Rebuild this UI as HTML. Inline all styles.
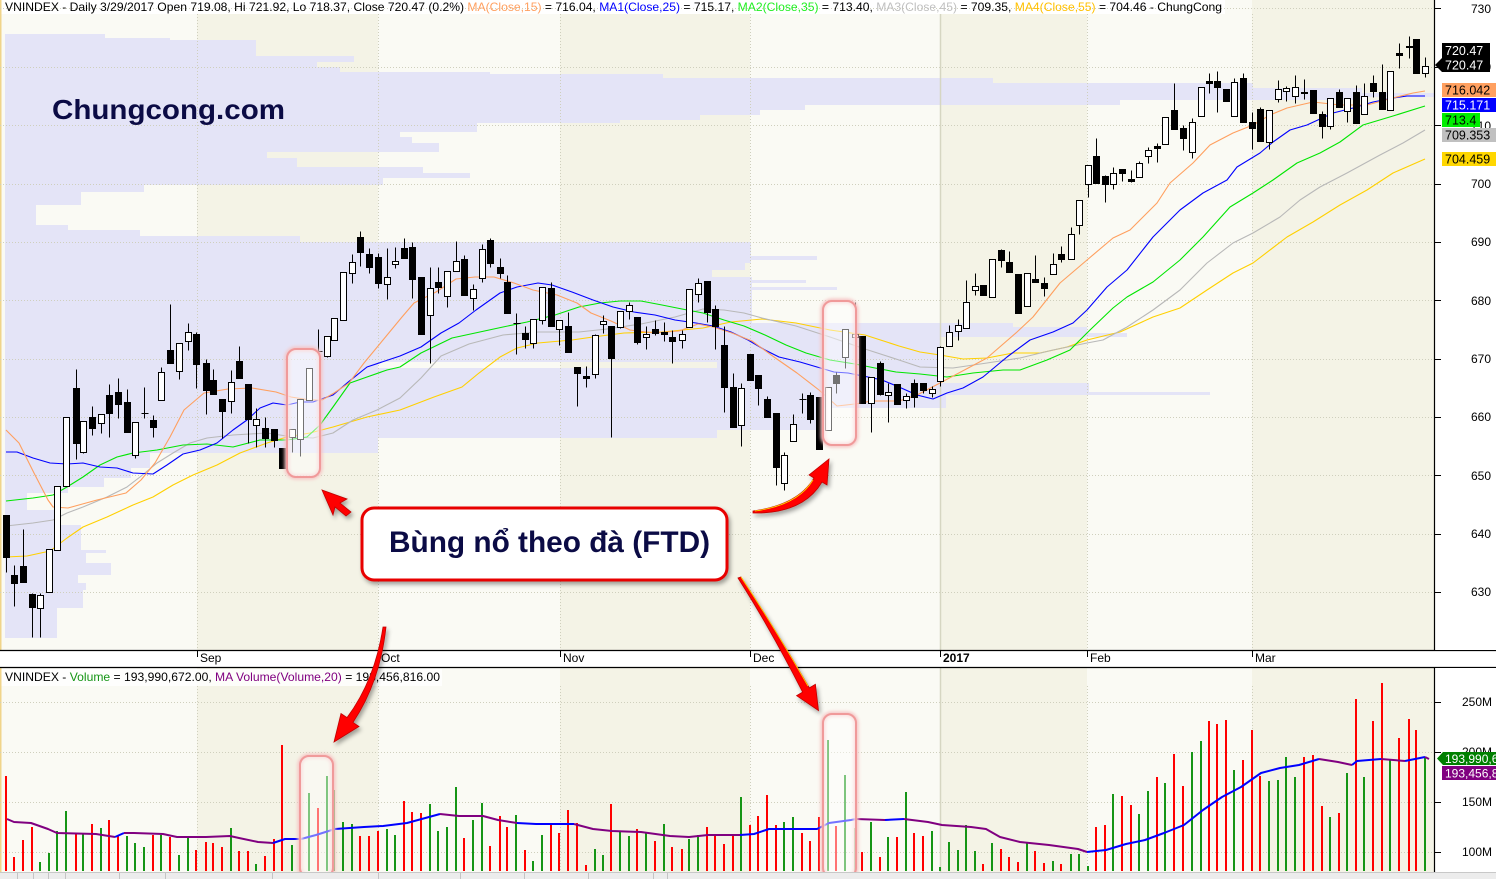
<!DOCTYPE html>
<html><head><meta charset="utf-8"><style>
html,body{margin:0;padding:0;background:#fff;}
svg{display:block;font-family:"Liberation Sans",Arial,sans-serif;}
</style></head><body>
<svg width="1496" height="879" viewBox="0 0 1496 879" xmlns="http://www.w3.org/2000/svg">
<defs>
<filter id="sh" x="-20%" y="-20%" width="140%" height="140%"><feDropShadow dx="2" dy="3" stdDeviation="2" flood-color="#000" flood-opacity="0.35"/></filter>
<filter id="gl" x="-30%" y="-30%" width="160%" height="160%"><feGaussianBlur stdDeviation="1.5"/></filter>
</defs>
<rect width="1496" height="879" fill="#fff"/>
<!-- month bands price panel -->
<g>
<rect x="0" y="0" width="197" height="650" fill="#fafaf4"/>
<rect x="197" y="0" width="181" height="650" fill="#f4f3e6"/>
<rect x="378" y="0" width="182" height="650" fill="#fafaf4"/>
<rect x="560" y="0" width="190" height="650" fill="#f4f3e6"/>
<rect x="750" y="0" width="190" height="650" fill="#fafaf4"/>
<rect x="940" y="0" width="147" height="650" fill="#f4f3e6"/>
<rect x="1087" y="0" width="165" height="650" fill="#fafaf4"/>
<rect x="1252" y="0" width="183" height="650" fill="#f4f3e6"/>
</g>
<!-- month bands volume panel -->
<g>
<rect x="0" y="668" width="197" height="205" fill="#fafaf4"/>
<rect x="197" y="668" width="181" height="205" fill="#f4f3e6"/>
<rect x="378" y="668" width="182" height="205" fill="#fafaf4"/>
<rect x="560" y="668" width="190" height="205" fill="#f4f3e6"/>
<rect x="750" y="668" width="190" height="205" fill="#fafaf4"/>
<rect x="940" y="668" width="147" height="205" fill="#f4f3e6"/>
<rect x="1087" y="668" width="165" height="205" fill="#fafaf4"/>
<rect x="1252" y="668" width="183" height="205" fill="#f4f3e6"/>
</g>
<rect x="0" y="0" width="1225" height="14" fill="#fff"/>
<rect x="0" y="669" width="442" height="17" fill="#fff" fill-opacity="0.8"/>
<!-- volume profile -->
<path fill="#e4e4f7" d="M5 34H105V38H5ZM5 38H170V40H5ZM5 40H256V56H5ZM5 56H354V62H5ZM5 62H317V67H5ZM5 67H340V72H5ZM5 72H490V74H5ZM5 74H663V78H5ZM5 78H993V83H5ZM5 83H1253V88H5ZM5 88H1362V93H5ZM5 93H1434V97H5ZM5 97H1362V100H5ZM5 100H1120V105H5ZM5 105H805V110H5ZM5 110H760V115H5ZM5 115H700V120H5ZM5 120H620V123H5ZM5 123H477V132H5ZM5 132H400V137H5ZM5 137H412V143H5ZM5 143H439V152H5ZM5 152H267V158H5ZM5 158H297V167H5ZM5 167H423V173H5ZM5 173H470V178H5ZM5 178H383V185H5ZM5 185H144V192H5ZM5 192H81V205H5ZM5 205H36V225H5ZM5 225H68V230H5ZM5 230H140V236H5ZM5 236H300V242H5ZM5 242H751V256H5ZM5 256H817V260H5ZM5 260H751V263H5ZM5 263H745V270H5ZM5 270H712V277H5ZM5 277H752V280H5ZM5 280H806V283H5ZM5 283H752V287H5ZM5 287H837V290H5ZM5 290H752V323H5ZM5 323H1013V327H5ZM5 327H1087V333H5ZM5 333H1127V337H5ZM5 337H940V362H5ZM5 362H378V368H5ZM717 362H940V368H717ZM5 368H940V383H5ZM5 383H1089V392H5ZM5 392H1210V395H5ZM5 395H946V408H5ZM5 408H824V430H5ZM5 430H717V438H5ZM5 438H378V453H5ZM5 453H150V468H5ZM5 468H131V478H5ZM5 478H104V487H5ZM5 487H68V493H5ZM5 493H27V510H5ZM5 510H57V525H5ZM5 525H81V550H5ZM5 550H106V553H5ZM5 553H86V563H5ZM5 563H111V575H5ZM5 575H78V583H5ZM5 583H86V590H5ZM5 590H83V608H5ZM5 608H57V638H5Z"/>
<rect x="0" y="0" width="1.5" height="650" fill="#f0d48a"/>
<rect x="0" y="668" width="1.5" height="205" fill="#f0d48a"/>
<!-- gridlines -->
<g stroke="#cfcfbd" stroke-width="1" stroke-dasharray="1 2" fill="none">
<path d="M0 8.5H1434M0 67.5H1434M0 125.5H1434M0 184.5H1434M0 242.5H1434M0 300.5H1434M0 359.5H1434M0 417.5H1434M0 475.5H1434M0 534.5H1434M0 592.5H1434"/>
<path d="M197.5 14V650M378.5 14V650M560.5 14V650M750.5 14V650M1087.5 14V650M1252.5 14V650"/>
<path d="M0 702.5H1434M0 752.5H1434M0 802.5H1434M0 852.5H1434"/>
<path d="M197.5 686V872M378.5 686V872M560.5 686V872M750.5 686V872M1087.5 686V872M1252.5 686V872"/>
</g>
<path d="M940.5 14V650M940.5 668V872" stroke="#d6d6c2" stroke-width="1.5"/>
<!-- watermark -->
<text x="52" y="119" font-size="28" font-weight="bold" fill="#0b0b45" textLength="233" lengthAdjust="spacingAndGlyphs">Chungcong.com</text>
<!-- title -->
<text x="5" y="11" font-size="12" fill="#000" textLength="1217" lengthAdjust="spacingAndGlyphs">VNINDEX - Daily 3/29/2017 Open 719.08, Hi 721.92, Lo 718.37, Close 720.47 (0.2%) <tspan fill="#ffa060">MA(Close,15)</tspan> = 716.04, <tspan fill="#0000ff">MA1(Close,25)</tspan> = 715.17, <tspan fill="#22ee22">MA2(Close,35)</tspan> = 713.40, <tspan fill="#c0c0c0">MA3(Close,45)</tspan> = 709.35, <tspan fill="#ffc000">MA4(Close,55)</tspan> = 704.46 - ChungCong</text>
<!-- moving averages -->
<g fill="none" stroke-width="1.1" stroke-linejoin="round">
<polyline stroke="#ffd000" points="6,557 27,556 50,551 67,538 83,527 107,517 133,505 153,497 173,485 193,475 217,465 240,453 267,443 287,437 310,433 333,427 367,417 400,410 434,397 462,387 479,373 500,357 517,348 538,343 572,340 593,337 624,333 662,332 703,328 731,322 762,319 796,323 830,330 865,335 899,346 920,352 940,355 963,359 987,358 1013,353 1040,353 1067,347 1087,340 1120,332 1153,317 1180,308 1207,290 1233,273 1253,263 1287,237 1313,222 1340,205 1367,190 1393,173 1425,159"/>
<polyline stroke="#b8b8b8" points="6,526 33,523 53,520 67,513 83,507 107,497 127,487 140,477 157,463 173,453 190,443 207,438 233,435 267,433 293,437 313,438 333,433 353,420 377,410 400,398 421,378 441,356 469,344 503,335 538,332 579,332 607,329 641,324 675,317 703,309 724,310 744,313 762,318 796,326 830,337 865,349 899,360 920,367 953,368 987,363 1020,358 1053,350 1087,343 1103,340 1127,327 1153,310 1180,290 1207,263 1233,243 1253,233 1280,217 1300,200 1320,187 1347,173 1380,155 1403,143 1425,130"/>
<polyline stroke="#00e600" points="6,501 33,498 53,495 67,487 83,477 100,465 117,457 133,453 157,450 183,445 207,444 233,447 260,440 287,440 307,437 320,425 333,407 350,383 367,377 387,370 400,367 421,353 452,338 503,327 527,322 555,315 579,307 600,303 620,301 641,301 662,305 682,309 703,313 724,320 744,326 765,335 786,345 806,353 830,360 855,364 875,368 896,372 920,374 947,377 973,373 1003,370 1020,370 1047,360 1070,350 1090,330 1113,308 1127,297 1153,282 1180,260 1203,237 1230,207 1253,193 1273,180 1297,163 1320,153 1340,142 1363,125 1393,116 1425,106"/>
<polyline stroke="#0000ff" points="6,452 17,452 33,458 50,463 67,464 83,463 100,467 117,468 133,473 153,474 167,465 183,454 200,450 217,443 233,430 247,420 260,408 273,403 287,405 300,402 313,402 333,395 347,383 367,367 400,356 421,347 441,333 459,323 476,310 500,293 517,287 538,283 552,285 572,292 593,300 613,307 634,312 655,315 675,320 696,323 713,326 731,332 748,340 765,350 779,357 800,362 817,367 834,372 848,373 868,377 882,380 899,387 917,395 933,399 947,393 963,388 983,377 1007,357 1030,340 1053,332 1073,323 1087,310 1107,287 1127,270 1153,237 1180,210 1203,193 1227,180 1237,167 1260,153 1273,142 1290,130 1307,125 1333,113 1353,108 1373,102 1393,98 1407,96 1425,96"/>
<polyline stroke="#ff9f5e" points="6,430 19,443 34,473 48,500 53,507 68,508 97,500 126,493 141,480 155,463 170,437 184,410 204,393 228,389 252,388 276,392 291,397 310,400 322,400 334,393 349,383 364,363 383,340 402,317 414,303 436,292 456,279 475,277 494,277 514,283 533,290 557,295 577,303 591,313 611,321 630,330 654,333 679,331 698,324 713,327 732,333 752,341 774,357 797,373 819,390 837,406 855,404 872,401 899,401 917,395 940,383 987,358 1017,332 1033,317 1060,283 1087,260 1113,238 1130,230 1140,220 1157,203 1170,183 1193,163 1210,145 1233,133 1253,125 1270,115 1287,108 1313,102 1340,105 1367,105 1393,98 1413,93 1425,91"/>
</g>
<!-- candles -->
<g transform="translate(0.5,0.5)" stroke="#000" stroke-width="1">
<path fill="none" d="M6 515V572M14 565V606M23 529V582M32 593V637M40 593V637M49 549V592M57 486V550M66 417V486M76 369V459M83 421V453M92 406V435M101 414V433M109 384V437M118 378V418M127 389V432M135 422V458M144 387V418M153 415V437M161 367V400M170 304V363M179 343V379M188 323V350M196 332V388M206 359V414M213 369V394M222 399V438M231 370V413M239 346V378M248 384V443M256 408V447M265 417V447M274 429V447M282 448V468M292 429V452M300 399V456M309 368V400M318 329V352M327 336V357M334 318V340M343 272V320M352 254V283M360 231V266M369 248V273M378 253V288M387 248V299M395 247V268M404 238V258M412 242V298M421 277V334M430 267V363M438 267V293M447 271V307M456 241V271M464 255V295M473 284V310M482 244V282M490 238V267M500 258V278M507 275V313M516 313V354M525 326V348M533 319V348M542 287V324M551 282V326M559 320V345M568 312V352M577 367V406M586 366V387M595 334V378M603 315V333M611 326V437M620 311V328M629 302V319M637 317V344M646 326V349M655 320V335M664 322V341M672 330V363M682 330V348M689 289V327M698 278V302M707 281V322M715 305V349M724 326V412M733 373V427M741 383V446M750 354V380M758 375V405M767 396V417M776 413V485M784 452V490M793 414V441M802 393V413M810 392V423M819 397V449M828 387V430M836 372V393M845 329V368M855 302V337M862 336V403M871 377V432M880 361V395M888 383V422M897 384V404M906 393V408M914 379V407M923 383V393M932 386V397M940 346V386M949 325V346M958 319V340M966 280V328M975 273V295M983 285V295M992 259V297M1001 249V267M1009 251V272M1018 274V313M1027 273V306M1035 255V282M1044 277V296M1053 253V274M1061 246V262M1071 227V259M1079 200V234M1088 165V197M1096 138V183M1105 175V202M1113 167V189M1122 169V181M1131 170V182M1139 161V177M1148 147V163M1157 143V162M1165 117V144M1174 83V129M1183 125V150M1192 118V158M1201 87V116M1209 73V93M1217 71V112M1226 89V101M1234 78V116M1243 73V122M1252 112V149M1260 107V141M1269 110V149M1278 80V102M1286 86V101M1295 75V103M1304 79V99M1313 90V113M1322 111V138M1330 98V129M1339 89V107M1347 98V122M1356 85V123M1364 83V114M1373 75V97M1382 64V109M1390 71V110M1399 43V68M1409 36V58M1416 39V73M1425 57V77M141 413h7M315 351h7M513 323h7M799 399h7"/>
<path fill="#000" d="M3 515h6v42h-6zM11 575h6v8h-6zM20 566h6v16h-6zM29 594h6v13h-6zM73 388h6v55h-6zM89 417h6v11h-6zM106 395h6v18h-6zM115 392h6v12h-6zM124 402h6v30h-6zM150 420h6v7h-6zM167 350h6v13h-6zM193 334h6v30h-6zM203 363h6v27h-6zM210 380h6v14h-6zM219 399h6v12h-6zM236 361h6v17h-6zM245 384h6v35h-6zM262 428h6v10h-6zM271 429h6v11h-6zM279 448h6v20h-6zM357 237h6v15h-6zM366 254h6v13h-6zM375 257h6v26h-6zM401 248h6v10h-6zM409 247h6v32h-6zM418 277h6v57h-6zM435 282h6v5h-6zM461 259h6v36h-6zM487 240h6v23h-6zM497 267h6v6h-6zM504 282h6v31h-6zM522 333h6v6h-6zM548 288h6v38h-6zM565 326h6v26h-6zM574 367h6v6h-6zM583 376h6v2h-6zM608 326h6v32h-6zM634 317h6v25h-6zM652 329h6v4h-6zM661 332h6v2h-6zM669 337h6v4h-6zM704 281h6v31h-6zM712 309h6v17h-6zM721 345h6v42h-6zM730 387h6v40h-6zM747 354h6v26h-6zM755 375h6v13h-6zM764 399h6v18h-6zM773 413h6v54h-6zM807 395h6v24h-6zM816 397h6v52h-6zM833 375h6v8h-6zM859 336h6v67h-6zM877 363h6v31h-6zM894 384h6v20h-6zM911 383h6v14h-6zM920 383h6v7h-6zM980 285h6v10h-6zM998 250h6v10h-6zM1006 262h6v10h-6zM1015 274h6v39h-6zM1032 279h6v3h-6zM1041 283h6v5h-6zM1058 254h6v5h-6zM1093 156h6v27h-6zM1102 176h6v8h-6zM1119 169h6v4h-6zM1128 179h6v2h-6zM1154 146h6v2h-6zM1171 110h6v19h-6zM1180 128h6v10h-6zM1206 81h6v2h-6zM1214 81h6v6h-6zM1223 89h6v12h-6zM1240 78h6v44h-6zM1249 122h6v6h-6zM1257 109h6v32h-6zM1301 92h6v1h-6zM1310 90h6v23h-6zM1319 114h6v12h-6zM1336 92h6v15h-6zM1353 92h6v31h-6zM1370 83h6v8h-6zM1379 92h6v17h-6zM1396 53h6v2h-6zM1406 46h6v1h-6zM1413 39h6v34h-6z"/>
<path fill="#fff" d="M37 595h6v13h-6zM46 549h6v43h-6zM54 486h6v64h-6zM63 417h6v69h-6zM80 421h6v31h-6zM98 414h6v9h-6zM132 422h6v33h-6zM158 372h6v28h-6zM176 343h6v28h-6zM185 332h6v9h-6zM228 382h6v19h-6zM253 419h6v6h-6zM289 429h6v8h-6zM297 399h6v40h-6zM306 368h6v32h-6zM324 336h6v20h-6zM331 318h6v22h-6zM340 272h6v48h-6zM349 262h6v11h-6zM384 277h6v7h-6zM392 261h6v3h-6zM427 288h6v27h-6zM444 271h6v25h-6zM453 261h6v10h-6zM470 289h6v9h-6zM479 249h6v29h-6zM530 319h6v24h-6zM539 287h6v33h-6zM556 320h6v9h-6zM592 335h6v39h-6zM600 321h6v3h-6zM617 311h6v16h-6zM626 305h6v6h-6zM643 334h6v3h-6zM679 334h6v6h-6zM686 289h6v38h-6zM695 283h6v11h-6zM738 388h6v37h-6zM781 455h6v28h-6zM790 424h6v17h-6zM825 387h6v43h-6zM842 329h6v28h-6zM852 334h6v3h-6zM868 377h6v26h-6zM885 392h6v3h-6zM903 396h6v4h-6zM929 389h6v4h-6zM937 347h6v34h-6zM946 332h6v14h-6zM955 325h6v6h-6zM963 302h6v26h-6zM972 286h6v4h-6zM989 259h6v38h-6zM1024 273h6v33h-6zM1050 264h6v10h-6zM1068 234h6v25h-6zM1076 200h6v25h-6zM1085 165h6v19h-6zM1110 173h6v11h-6zM1136 163h6v14h-6zM1145 150h6v6h-6zM1162 117h6v27h-6zM1189 122h6v30h-6zM1198 87h6v29h-6zM1231 82h6v34h-6zM1266 110h6v32h-6zM1275 89h6v10h-6zM1283 88h6v3h-6zM1292 87h6v9h-6zM1327 98h6v28h-6zM1344 98h6v13h-6zM1361 96h6v18h-6zM1387 71h6v39h-6zM1422 66h6v7h-6z"/>
</g>
<!-- volume bars -->
<path fill="none" stroke="#ff0000" stroke-width="2" d="M6 871V776M14 871V857M23 871V840M32 871V827M76 871V833M92 871V824M109 871V820M118 871V835M153 871V835M170 871V837M196 871V850M206 871V842M213 871V843M222 871V847M239 871V851M248 871V851M265 871V856M274 871V839M282 871V745M318 871V808M360 871V836M369 871V836M378 871V831M404 871V801M412 871V812M421 871V813M464 871V838M490 871V846M500 871V816M507 871V827M525 871V850M551 871V823M559 871V833M568 871V810M577 871V823M586 871V865M611 871V804M637 871V829M655 871V841M672 871V847M682 871V849M707 871V827M715 871V835M724 871V844M733 871V835M750 871V825M758 871V816M767 871V795M776 871V825M802 871V833M810 871V841M819 871V817M836 871V826M862 871V852M880 871V857M897 871V837M914 871V833M923 871V836M983 871V864M1001 871V849M1009 871V857M1018 871V862M1035 871V851M1044 871V863M1061 871V864M1096 871V827M1105 871V825M1122 871V796M1131 871V805M1157 871V777M1174 871V754M1183 871V786M1209 871V721M1217 871V724M1226 871V720M1243 871V760M1252 871V730M1260 871V776M1304 871V757M1313 871V755M1322 871V806M1339 871V813M1356 871V699M1373 871V721M1382 871V683M1399 871V738M1409 871V719M1416 871V730"/>
<path fill="none" stroke="#159515" stroke-width="2" d="M40 871V862M49 871V853M57 871V831M66 871V811M83 871V834M101 871V828M127 871V836M135 871V843M144 871V847M161 871V835M179 871V855M188 871V837M231 871V828M256 871V864M292 871V845M300 871V833M309 871V793M327 871V776M334 871V790M343 871V822M352 871V824M387 871V829M395 871V835M430 871V804M438 871V831M447 871V827M456 871V787M473 871V820M482 871V803M516 871V815M533 871V861M542 871V835M595 871V849M603 871V855M620 871V831M629 871V836M646 871V833M664 871V824M689 871V839M698 871V835M741 871V797M784 871V822M793 871V817M828 871V740M845 871V775M855 871V828M871 871V822M888 871V837M906 871V792M932 871V831M940 871V867M949 871V842M958 871V850M966 871V825M975 871V851M992 871V843M1027 871V843M1053 871V861M1071 871V854M1079 871V854M1088 871V866M1113 871V794M1139 871V814M1148 871V791M1165 871V783M1192 871V752M1201 871V741M1234 871V770M1269 871V781M1278 871V780M1286 871V757M1295 871V777M1330 871V817M1347 871V773M1364 871V777M1390 871V760M1425 871V758"/>
<!-- volume MA -->
<g fill="none" stroke-width="2" stroke-linejoin="round">
<polyline stroke="#800080" points="7,819 14,822 31,823 48,829 57,833 96,834 115,837"/>
<polyline stroke="#0000ff" points="115,837 124,833"/>
<polyline stroke="#800080" points="124,833 134,833 163,834 177,837 206,837 230,836 239,838 258,842 273,843"/>
<polyline stroke="#0000ff" points="273,843 285,839 301,839 316,835 335,829 364,827 383,826 407,823 440,814"/>
<polyline stroke="#800080" points="440,814 459,816 483,816 498,820 517,823"/>
<polyline stroke="#0000ff" points="517,823 536,824 574,824"/>
<polyline stroke="#800080" points="574,824 593,829 612,831 641,832 670,836 689,837 708,835 740,835"/>
<polyline stroke="#0000ff" points="740,835 754,834 769,829 817,829 829,823 851,820 856,819"/>
<polyline stroke="#800080" points="856,819 885,820"/>
<polyline stroke="#0000ff" points="885,820 904,819"/>
<polyline stroke="#800080" points="904,819 928,822 942,825 971,827 986,829 1000,837 1020,842 1049,845 1078,849 1087,852"/>
<polyline stroke="#0000ff" points="1087,852 1106,850 1126,844 1145,840 1164,833 1184,825 1203,810 1222,797 1241,787 1261,773 1280,768 1299,765 1319,759"/>
<polyline stroke="#800080" points="1319,759 1338,762 1352,765"/>
<polyline stroke="#0000ff" points="1352,765 1357,761 1381,759"/>
<polyline stroke="#800080" points="1381,759 1405,761"/>
<polyline stroke="#0000ff" points="1405,761 1425,757"/>
<polyline stroke="#800080" points="1425,757 1429,759"/>
</g>
<!-- FTD highlight boxes -->
<g>
<g fill="none" stroke="#f6c4c4" stroke-width="5" filter="url(#gl)">
<rect x="287" y="349" width="33" height="128" rx="9"/>
<rect x="823" y="301" width="33" height="144" rx="9"/>
<rect x="300" y="756" width="33" height="121" rx="9"/>
<rect x="823" y="714" width="33" height="163" rx="9"/>
</g>
<g fill="#fff" fill-opacity="0.45" stroke="#f09a9a" stroke-width="2">
<rect x="287" y="349" width="33" height="128" rx="9"/>
<rect x="823" y="301" width="33" height="144" rx="9"/>
<rect x="300" y="756" width="33" height="121" rx="9"/>
<rect x="823" y="714" width="33" height="163" rx="9"/>
</g>
</g>
<!-- date strip -->
<rect x="0" y="651" width="1496" height="16" fill="#fff"/>
<path d="M0 650.5H1496M0 667.5H1496" stroke="#000" stroke-width="1.2"/>
<path d="M197.5 651V657M378.5 651V657M560.5 651V657M750.5 651V657M940.5 651V657M1087.5 651V657M1252.5 651V657" stroke="#000" stroke-width="1"/>
<g font-size="12" fill="#000">
<text x="200" y="662">Sep</text>
<text x="381" y="662">Oct</text>
<text x="563" y="662">Nov</text>
<text x="753" y="662">Dec</text>
<text x="943" y="662" font-weight="bold">2017</text>
<text x="1090" y="662">Feb</text>
<text x="1255" y="662">Mar</text>
</g>
<!-- volume title -->
<text x="5" y="681" font-size="12" fill="#000" textLength="435" lengthAdjust="spacingAndGlyphs">VNINDEX - <tspan fill="#159515">Volume</tspan> = 193,990,672.00, <tspan fill="#800080">MA Volume(Volume,20)</tspan> = 193,456,816.00</text>
<!-- bottom scrollbar -->
<rect x="0" y="872" width="1496" height="7" fill="#ececec"/>
<path d="M0 872.5H1496" stroke="#c8c8c8"/>
<path d="M17.5 873V879M33.5 873V879M48.5 873V879M65.5 873V879M119.5 873V879M165.5 873V879M272.5 873V879M378.5 873V879M460.5 873V879M524.5 873V879M588.5 873V879M653.5 873V879M667.5 873V879" stroke="#c4c4c4"/>
<!-- right axis panel -->
<rect x="1435" y="0" width="61" height="650" fill="#fff"/>
<rect x="1435" y="668" width="61" height="204" fill="#fff"/>
<path d="M1434.5 0V650M1434.5 668V872" stroke="#000" stroke-width="1.2"/>
<path d="M1435 8.5h6M1435 67.5h6M1435 125.5h6M1435 184.5h6M1435 242.5h6M1435 300.5h6M1435 359.5h6M1435 417.5h6M1435 475.5h6M1435 534.5h6M1435 592.5h6M1435 702.5h6M1435 752.5h6M1435 802.5h6M1435 852.5h6" stroke="#000"/>
<g font-size="12" fill="#000" text-anchor="end">
<text x="1491" y="13">730</text>
<text x="1491" y="71">720</text>
<text x="1491" y="130">710</text>
<text x="1491" y="188">700</text>
<text x="1491" y="246">690</text>
<text x="1491" y="305">680</text>
<text x="1491" y="363">670</text>
<text x="1491" y="421">660</text>
<text x="1491" y="480">650</text>
<text x="1491" y="538">640</text>
<text x="1491" y="596">630</text>
<text x="1492" y="706">250M</text>
<text x="1492" y="756">200M</text>
<text x="1492" y="806">150M</text>
<text x="1492" y="856">100M</text>
</g>
<!-- value boxes -->
<g font-size="12.5">
<rect x="1442" y="43" width="48" height="15" fill="#000"/>
<path d="M1435 65L1442 58H1490V72H1442Z" fill="#000"/>
<text x="1445" y="55" fill="#fff">720.47</text>
<text x="1445" y="69.5" fill="#fff">720.47</text>
<rect x="1442" y="83" width="54" height="14" fill="#ffa060"/>
<text x="1445" y="94.5" fill="#000">716.042</text>
<rect x="1442" y="98" width="54" height="14" fill="#0000ff"/>
<text x="1445" y="109.5" fill="#fff">715.171</text>
<rect x="1442" y="113" width="38" height="14" fill="#00ee00"/>
<text x="1445" y="124.5" fill="#000">713.4</text>
<rect x="1442" y="128" width="54" height="14" fill="#c0c0c0"/>
<text x="1445" y="139.5" fill="#000">709.353</text>
<rect x="1442" y="152" width="54" height="14" fill="#ffd700"/>
<text x="1445" y="163.5" fill="#000">704.459</text>
</g>
<g font-size="12">
<path d="M1437 758.5L1443 752H1496V765H1443Z" fill="#008000"/>
<text x="1445" y="763" fill="#fff">193,990,6</text>
<rect x="1442" y="766" width="54" height="14" fill="#800080"/>
<text x="1445" y="777.5" fill="#fff">193,456,8</text>
</g>
<!-- callout -->
<rect x="362" y="508" width="365" height="72" rx="12" fill="#fff" stroke="#e80000" stroke-width="3" filter="url(#sh)"/>
<text x="389" y="552" font-size="30" font-weight="bold" fill="#0b0b45" textLength="321" lengthAdjust="spacingAndGlyphs">Bùng nổ theo đà (FTD)</text>
<!-- arrows -->
<g fill="#ff0000" stroke="#c00000" stroke-width="0.8" filter="url(#sh)">
<path d="M322 490L347 499L340 503L351 512L346 516L335 507L333 515Z"/>
<path d="M753 511Q798 505 814 478L809 475L829 459L827 485L822 482Q803 514 753 513Z"/>
<path d="M383 627Q375 680 347 717.6L341 713.5L334 742L359 726.5L353 722.4Q380 682 386 627Z"/>
<path d="M738 578Q770 628 802.6 692.1L796.6 695.7L818.5 710.5L815.4 684.3L809.4 687.9Q776 630 741 577Z"/>
</g>
<g fill="none" stroke="#ffe000" stroke-width="0.8">
<path d="M755 511Q798 505 813 480"/>
<path d="M741 577Q776 630 808 686"/>
</g>
</svg>
</body></html>
